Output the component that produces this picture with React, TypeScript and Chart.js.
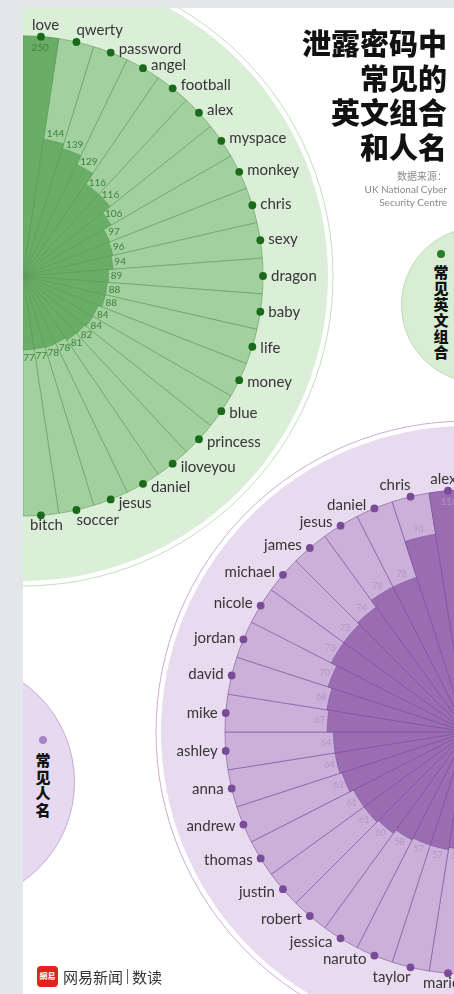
import React, { useEffect, useRef } from "react";
import { Chart, registerables } from "chart.js";

Chart.register(...registerables);

const comboLabels = ["love", "qwerty", "password", "angel", "football", "alex", "myspace", "monkey", "chris", "sexy", "dragon", "baby", "life", "money", "blue", "princess", "iloveyou", "daniel", "jesus", "soccer", "bitch"];
const comboValues = [250, 144, 139, 129, 116, 116, 106, 97, 96, 94, 89, 88, 88, 84, 84, 82, 81, 78, 78, 77, 77];

const nameLabels = ["alex", "chris", "daniel", "jesus", "james", "michael", "nicole", "jordan", "david", "mike", "ashley", "anna", "andrew", "thomas", "justin", "robert", "jessica", "naruto", "taylor", "marie"];
const nameValues = [116, 96, 78, 78, 74, 73, 73, 70, 68, 67, 64, 64, 63, 61, 61, 60, 58, 57, 57, 56];

const titleLines = ["泄露密码中", "常见的", "英文组合", "和人名"];
const sourceLines = ["数据来源：", "UK National Cyber", "Security Centre"];
const comboTag = "常见英文组合";
const nameTag = "常见人名";
const brandName = "网易新闻";
const brandSub = "数读";

type Palette = { bg: string; ring: string; light: string; dark: string; line: string; dot: string; num: string };

type HalfProps = {
  labels: string[];
  values: number[];
  startAngle: number;
  cx: number;
  cy: number;
  radius: number;
  bgR: number;
  ringR: number;
  pal: Palette;
  numFont: number;
};

function HalfPolar(p: HalfProps) {
  const ref = useRef<HTMLCanvasElement>(null);
  const S = 660;
  const half = S / 2;
  useEffect(() => {
    if (!ref.current) return;
    const pad = half - p.radius;
    const max = Math.max(...p.values);
    const angle = 180 / p.values.length;
    const deco = {
      id: "deco",
      beforeDatasetsDraw(chart: any) {
        const sc = chart.scales.r;
        const ctx = chart.ctx;
        ctx.save();
        ctx.beginPath();
        ctx.arc(sc.xCenter, sc.yCenter, p.ringR, 0, Math.PI * 2);
        ctx.strokeStyle = p.pal.ring;
        ctx.lineWidth = 1;
        ctx.stroke();
        ctx.beginPath();
        ctx.arc(sc.xCenter, sc.yCenter, p.bgR, 0, Math.PI * 2);
        ctx.fillStyle = p.pal.bg;
        ctx.fill();
        ctx.restore();
      },
      afterDatasetsDraw(chart: any) {
        const ctx = chart.ctx;
        const darkMeta = chart.getDatasetMeta(0);
        const lightMeta = chart.getDatasetMeta(1);
        ctx.save();
        ctx.font = `${p.numFont}px Lato, "Noto Sans", sans-serif`;
        ctx.fillStyle = p.pal.num;
        ctx.textAlign = "center";
        ctx.textBaseline = "middle";
        darkMeta.data.forEach((el: any, i: number) => {
          const v = p.values[i];
          const mid = (el.startAngle + el.endAngle) / 2;
          const rr = v === max ? el.outerRadius - 11 : el.outerRadius + 8;
          ctx.fillText(String(v), el.x + Math.cos(mid) * rr, el.y + Math.sin(mid) * rr);
        });
        lightMeta.data.forEach((el: any, i: number) => {
          const mid = (el.startAngle + el.endAngle) / 2;
          const dx = Math.cos(mid);
          const dy = Math.sin(mid);
          const px = el.x + dx * el.outerRadius;
          const py = el.y + dy * el.outerRadius;
          ctx.beginPath();
          ctx.arc(px, py, 3.9, 0, Math.PI * 2);
          ctx.fillStyle = p.pal.dot;
          ctx.fill();
          const label = p.labels[i];
          ctx.font = `15px Lato, "Noto Sans", sans-serif`;
          ctx.fillStyle = "#363636";
          const w = ctx.measureText(label).width;
          ctx.textBaseline = "middle";
          if (Math.abs(dx) >= 0.3) {
            ctx.textAlign = dx > 0 ? "left" : "right";
            ctx.fillText(label, px + Math.sign(dx) * 8, py + dy * 4);
          } else {
            const f = Math.max(-1, Math.min(1, dx / 0.22));
            ctx.textAlign = "center";
            ctx.fillText(label, px + (f * w) / 2, py + (dy < 0 ? -12 : 10));
          }
        });
        ctx.restore();
      },
    };
    const chart = new Chart(ref.current, {
      type: "polarArea",
      data: {
        labels: p.labels,
        datasets: [
          {
            data: p.values,
            backgroundColor: p.pal.dark,
            borderColor: p.pal.line,
            borderWidth: 0.6,
            angle,
          } as any,
          {
            data: p.values.map(() => max),
            backgroundColor: p.pal.light,
            borderColor: p.pal.line,
            borderWidth: 0.6,
            angle,
          } as any,
        ],
      },
      options: {
        responsive: false,
        animation: false,
        events: [],
        layout: { padding: pad },
        scales: {
          r: { display: false, min: 0, max, startAngle: p.startAngle } as any,
        },
        plugins: { legend: { display: false }, tooltip: { enabled: false } },
      },
      plugins: [deco],
    });
    return () => chart.destroy();
  }, []);
  return (
    <canvas
      ref={ref}
      width={S}
      height={S}
      style={{ position: "absolute", left: p.cx - half, top: p.cy - half, width: S, height: S }}
    />
  );
}

const cjk = '"Noto Sans CJK SC", "Noto Sans", sans-serif';

export default function App() {
  const green: Palette = {
    bg: "#dbeed8",
    ring: "#bfe0ba",
    light: "#a3d09f",
    dark: "#69ad66",
    line: "#5c9c59",
    dot: "#1b6a1b",
    num: "#3d833b",
  };
  const purple: Palette = {
    bg: "#e8dbef",
    ring: "#c9acda",
    light: "#cbb0da",
    dark: "#9a6db3",
    line: "#7a519a",
    dot: "#7a4b96",
    num: "#b195c4",
  };
  return (
    <div style={{ position: "absolute", left: 0, top: 0, width: 454, height: 994, background: "#e3e7ea", overflow: "hidden" }}>
      <div style={{ position: "absolute", left: 23, top: 8, width: 431, height: 986, background: "#ffffff", overflow: "hidden" }}>
        <div style={{ position: "absolute", left: 479 - 23 - 78, top: 305 - 8 - 78, width: 156, height: 156, borderRadius: "50%", background: "#d9edd5", border: "1px solid #bcdcb6", boxSizing: "border-box" }} />
        <div style={{ position: "absolute", left: -47 - 23 - 122, top: 782 - 8 - 122, width: 244, height: 244, borderRadius: "50%", background: "#e7d9ef", border: "1px solid #c7abd8", boxSizing: "border-box" }} />

        <HalfPolar labels={comboLabels} values={comboValues} startAngle={0} cx={0} cy={268} radius={240} bgR={305} ringR={310} pal={green} numFont={10} />
        <HalfPolar labels={[...nameLabels].reverse()} values={[...nameValues].reverse()} startAngle={180} cx={444} cy={724} radius={242} bgR={306} ringR={311} pal={purple} numFont={9} />

        <div style={{ position: "absolute", left: 441 - 23 - 4, top: 254 - 8 - 4, width: 8, height: 8, borderRadius: "50%", background: "#2a7d2a" }} />
        <div style={{ position: "absolute", left: 441 - 23 - 10, top: 264 - 8, width: 20, fontFamily: cjk, fontWeight: 900, fontSize: 15, lineHeight: "16px", color: "#111", textAlign: "center" }}>
          {comboTag.split("").map((c, i) => (<div key={i}>{c}</div>))}
        </div>
        <div style={{ position: "absolute", left: 43 - 23 - 4, top: 740 - 8 - 4, width: 8, height: 8, borderRadius: "50%", background: "#a884c2" }} />
        <div style={{ position: "absolute", left: 43 - 23 - 10, top: 752 - 8, width: 20, fontFamily: cjk, fontWeight: 900, fontSize: 15, lineHeight: "16.5px", color: "#111", textAlign: "center" }}>
          {nameTag.split("").map((c, i) => (<div key={i}>{c}</div>))}
        </div>

        <div style={{ position: "absolute", right: 7, top: 17, textAlign: "right", fontFamily: cjk, fontWeight: 900, fontSize: 29, lineHeight: "34.7px", color: "#111", whiteSpace: "nowrap" }}>
          {titleLines.map((t, i) => (<div key={i}>{t}</div>))}
        </div>
        <div style={{ position: "absolute", right: 7, top: 162, textAlign: "right", fontFamily: 'Lato, "Noto Sans CJK SC", sans-serif', fontSize: 10, lineHeight: "13px", color: "#8a8a8a", whiteSpace: "nowrap" }}>
          {sourceLines.map((t, i) => (<div key={i}>{t}</div>))}
        </div>

        <div style={{ position: "absolute", left: 14, top: 958, width: 21, height: 21, borderRadius: 4, background: "#e0231b", color: "#fff", fontFamily: cjk, fontWeight: 700, fontSize: 8, lineHeight: "19px", textAlign: "center" }}>網易</div>
        <div style={{ position: "absolute", left: 40, top: 958, height: 21, display: "flex", alignItems: "center", fontFamily: cjk, fontSize: 15, color: "#333", whiteSpace: "nowrap" }}>
          <span>{brandName}</span>
          <span style={{ display: "inline-block", width: 1, height: 15, background: "#666", margin: "0 4px" }} />
          <span>{brandSub}</span>
        </div>
      </div>
    </div>
  );
}
